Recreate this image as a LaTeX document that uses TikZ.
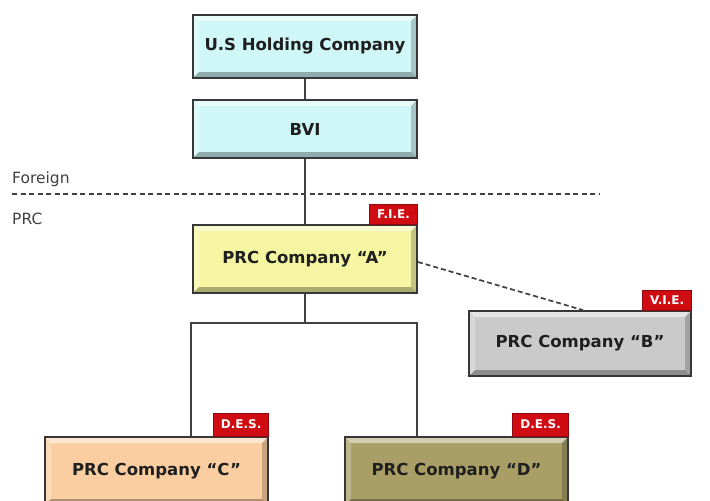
\documentclass[tikz,border=0pt]{standalone}
\usepackage{fontspec}
\setmainfont{DejaVu Sans}
\begin{document}
\definecolor{usfill}{RGB}{208,247,247}
\definecolor{afill}{RGB}{246,246,162}
\definecolor{bfill}{RGB}{202,202,202}
\definecolor{cfill}{RGB}{250,206,160}
\definecolor{dfill}{RGB}{168,158,102}
\definecolor{tagred}{RGB}{206,12,18}
\definecolor{edge}{RGB}{55,55,55}
\begin{tikzpicture}[x=1pt,y=-1pt,
  company/.style={draw=edge, line width=1.8pt, fill=#1, inner sep=0pt,
    minimum width=224pt, minimum height=66pt,
    font=\fontsize{16.5}{18}\selectfont\bfseries, text=black!88,
    path picture={
      % bevelled edges: light on top and left, dark on bottom and right
      \fill[white,opacity=.5] (path picture bounding box.north west) -- (path picture bounding box.north east)
        -- ([shift={(-6pt,-6pt)}]path picture bounding box.north east) -- ([shift={(6pt,-6pt)}]path picture bounding box.north west) -- cycle;
      \fill[white,opacity=.25] (path picture bounding box.north west) -- ([shift={(6pt,-6pt)}]path picture bounding box.north west)
        -- ([shift={(6pt,6pt)}]path picture bounding box.south west) -- (path picture bounding box.south west) -- cycle;
      \fill[black,opacity=.3] (path picture bounding box.south west) -- ([shift={(6pt,6pt)}]path picture bounding box.south west)
        -- ([shift={(-6pt,6pt)}]path picture bounding box.south east) -- (path picture bounding box.south east) -- cycle;
      \fill[black,opacity=.2] (path picture bounding box.north east) -- (path picture bounding box.south east)
        -- ([shift={(-6pt,6pt)}]path picture bounding box.south east) -- ([shift={(-6pt,-6pt)}]path picture bounding box.north east) -- cycle;
    }},
  tag/.style={fill=tagred, draw=tagred!70!black, line width=.6pt, text=white, inner sep=0pt,
    font=\fontsize{12}{13}\selectfont\bfseries, minimum height=20pt, anchor=south east},
  link/.style={draw=black!75, line width=1.5pt},
  sep/.style={draw=black!75, line width=1.8pt, dash pattern=on 5pt off 3.5pt},
  zone/.style={font=\fontsize{15.5}{17}\selectfont, text=black!75, inner sep=0pt, anchor=base west}
]
\useasboundingbox (0,0) rectangle (710,501);

% companies
\node[company=usfill, minimum height=63pt] (us)  at (305,46.5) {U.S Holding Company};
\node[company=usfill, minimum height=58pt] (bvi) at (305,129) {BVI};
\node[company=afill, minimum height=68pt] (A)  at (305,259) {PRC Company “A”};
\node[company=bfill, minimum width=222pt, minimum height=65pt] (B) at (580,343.5) {PRC Company “B”};
\node[company=cfill, minimum width=223pt, minimum height=68pt] (C) at (156.5,471) {PRC Company “C”};
\node[company=dfill, minimum width=223pt, minimum height=68pt] (D) at (456.5,471) {PRC Company “D”};

% status tags
\node[tag, minimum width=48pt] (fie) at (A.north east) {F.I.E.};
\node[tag, minimum width=49pt] (vie) at (B.north east) {V.I.E.};
\node[tag, minimum width=55pt, minimum height=23pt] (desc) at (C.north east) {D.E.S.};
\node[tag, minimum width=56pt, minimum height=23pt] (desd) at (D.north east) {D.E.S.};

% jurisdiction boundary
\coordinate (sepL) at (12,194);
\coordinate (sepR) at (600,194);
\draw[sep] (sepL) -- (sepR);
\node[zone] (foreign) at (12,183) {Foreign};
\node[zone] (prc) at (12,224) {PRC};

% ownership links
\coordinate (fork) at (305,323);
\draw[link] (us) -- (bvi);
\draw[link] (bvi) -- (A);
\draw[link] (A) -- (fork);
\draw[link] ([xshift=34.5pt]C.north) |- (fork) -| ([xshift=-39.5pt]D.north);
\draw[link, line width=1.7pt, dash pattern=on 5pt off 3pt] ([yshift=-3pt]A.east) -- ([xshift=3pt]B.north);
\end{tikzpicture}
\end{document}
